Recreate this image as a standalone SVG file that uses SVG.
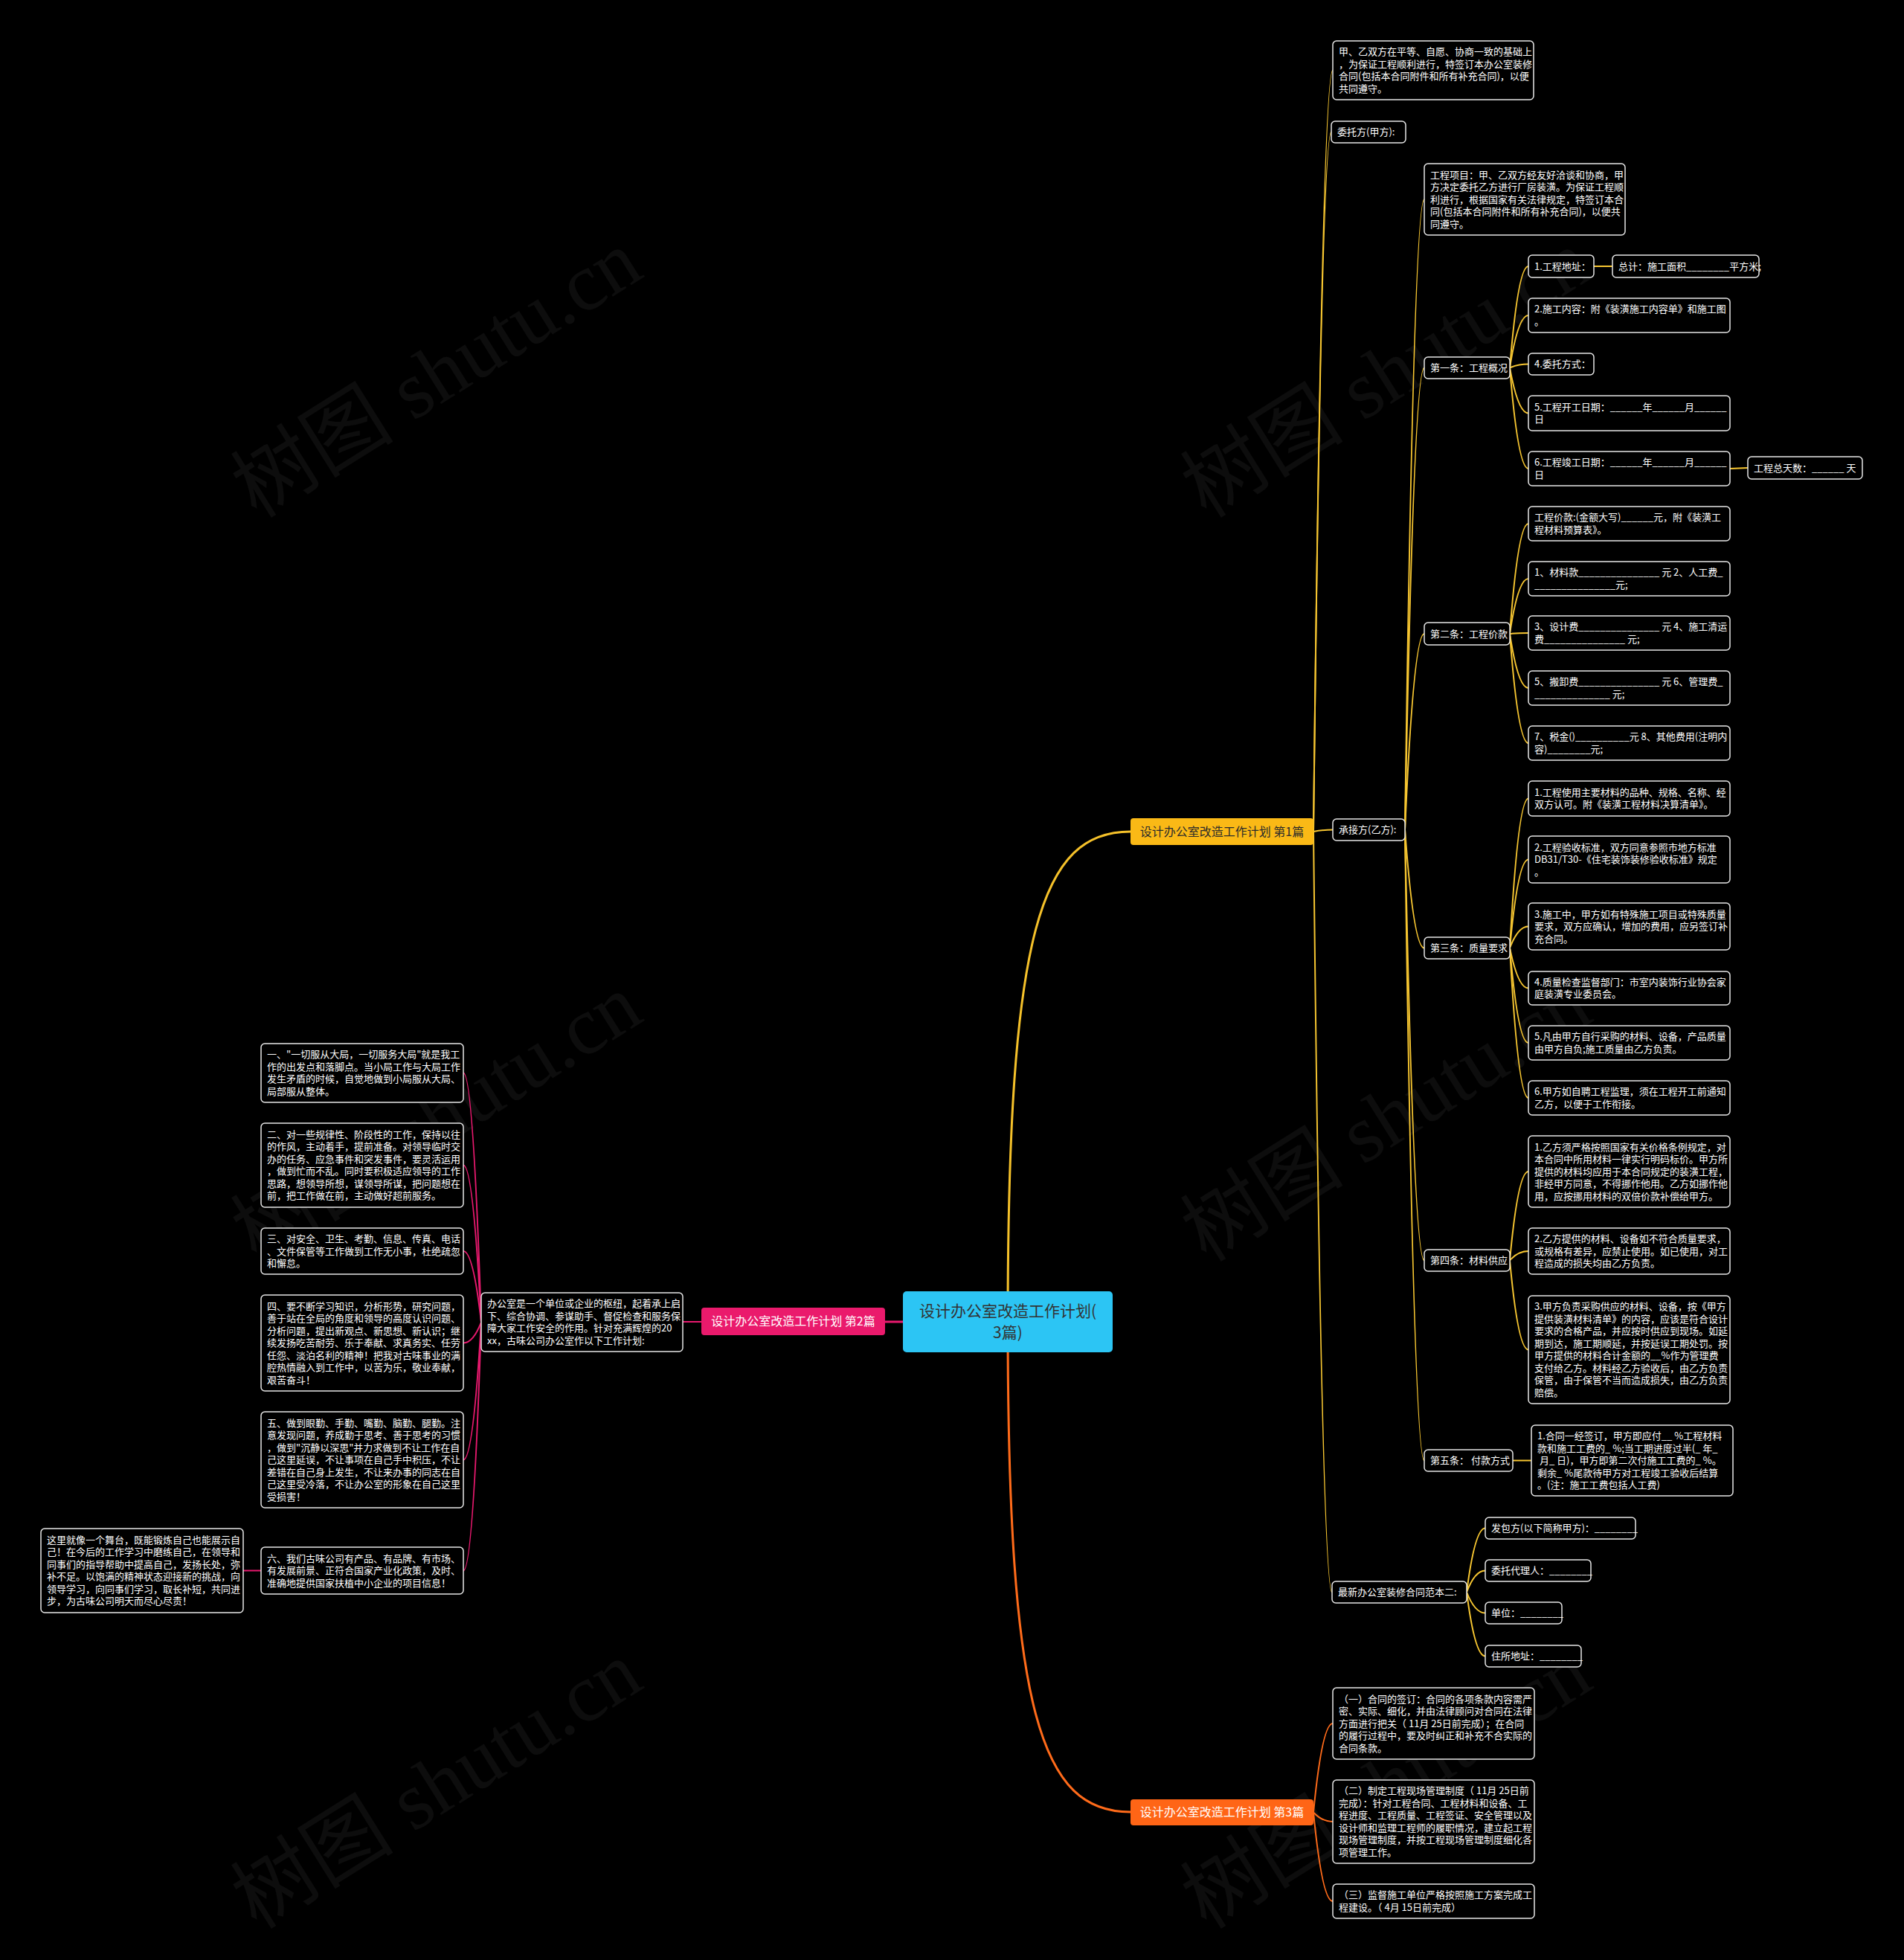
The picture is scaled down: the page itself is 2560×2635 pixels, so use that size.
<svg xmlns="http://www.w3.org/2000/svg" width="2560" height="2635" viewBox="0 0 2560 2635">
<style>
.bg{fill:#000}
.wm{font-family:"Liberation Serif","Noto Sans CJK SC",serif;font-size:110px;fill:#ffffff;fill-opacity:0.05}
.box{fill:#000;stroke:#e6e6e6;stroke-width:1.5}
.t{font-family:"Noto Sans CJK SC","Microsoft YaHei",sans-serif;font-size:13px;fill:#fff}
.bt{font-family:"Noto Sans CJK SC","Microsoft YaHei",sans-serif;font-size:16px;text-anchor:middle}
.rt{font-family:"Noto Sans CJK SC","Microsoft YaHei",sans-serif;font-size:21px;text-anchor:middle;fill:#333}
.cy{fill:none;stroke:#F7C631;stroke-width:2}
.cyM{fill:none;stroke:#F5C12A;stroke-width:3}
.cp{fill:none;stroke:#E8196E;stroke-width:2}
.cpM{fill:none;stroke:#E8196E;stroke-width:3}
.co{fill:none;stroke:#FF6B1A;stroke-width:2}
.coM{fill:none;stroke:#FF6B1A;stroke-width:3}
</style>
<rect class="bg" x="0" y="0" width="2560" height="2635"/>
<g id="watermarks">
<text class="wm" transform="translate(345,698) rotate(-32)">树图 shutu.cn</text>
<text class="wm" transform="translate(1622,698) rotate(-32)">树图 shutu.cn</text>
<text class="wm" transform="translate(345,1698) rotate(-32)">树图 shutu.cn</text>
<text class="wm" transform="translate(1622,1698) rotate(-32)">树图 shutu.cn</text>
<text class="wm" transform="translate(345,2595) rotate(-32)">树图 shutu.cn</text>
<text class="wm" transform="translate(1622,2595) rotate(-32)">树图 shutu.cn</text>
</g>
<g id="connectors">
<path class="cyM" d="M1355,1777 C1355,1250 1400,1118 1520,1118"/>
<path class="coM" d="M1355,1777 C1355,2304 1400,2436 1520,2436"/>
<path class="cpM" d="M1214,1777 L1190,1777"/>
<path class="cp" d="M943,1777 L918,1777"/>
<path class="cy" d="M1766,1118 Q1777.7,94.5 1792,94.5"/>
<path class="cy" d="M1766,1118 Q1776.8,177.5 1790,177.5"/>
<path class="cy" d="M1766,1118 Q1777.7,1115.5 1792,1115.5"/>
<path class="cy" d="M1766,1118 Q1777.2,2140.5 1791,2140.5"/>
<path class="cy" d="M1889,1115.5 Q1900.7,268 1915,268"/>
<path class="cy" d="M1889,1115.5 Q1900.7,494.5 1915,494.5"/>
<path class="cy" d="M1889,1115.5 Q1900.7,852 1915,852"/>
<path class="cy" d="M1889,1115.5 Q1900.7,1274.5 1915,1274.5"/>
<path class="cy" d="M1889,1115.5 Q1900.7,1694.5 1915,1694.5"/>
<path class="cy" d="M1889,1115.5 Q1900.7,1963.5 1915,1963.5"/>
<path class="cy" d="M2030,494.5 Q2041,358 2055,358"/>
<path class="cy" d="M2030,494.5 Q2041,424 2055,424"/>
<path class="cy" d="M2030,494.5 Q2041,489.5 2055,489.5"/>
<path class="cy" d="M2030,494.5 Q2041,555.5 2055,555.5"/>
<path class="cy" d="M2030,494.5 Q2041,630 2055,630"/>
<path class="cy" d="M2143,358 L2168,358"/>
<path class="cy" d="M2326,630 L2350,629"/>
<path class="cy" d="M2030,852 Q2041,704 2055,704"/>
<path class="cy" d="M2030,852 Q2041,778 2055,778"/>
<path class="cy" d="M2030,852 Q2041,851 2055,851"/>
<path class="cy" d="M2030,852 Q2041,925 2055,925"/>
<path class="cy" d="M2030,852 Q2041,999 2055,999"/>
<path class="cy" d="M2030,1274.5 Q2041,1073.5 2055,1073.5"/>
<path class="cy" d="M2030,1274.5 Q2041,1155.5 2055,1155.5"/>
<path class="cy" d="M2030,1274.5 Q2041,1245.5 2055,1245.5"/>
<path class="cy" d="M2030,1274.5 Q2041,1328.5 2055,1328.5"/>
<path class="cy" d="M2030,1274.5 Q2041,1402 2055,1402"/>
<path class="cy" d="M2030,1274.5 Q2041,1476 2055,1476"/>
<path class="cy" d="M2030,1694.5 Q2041,1575 2055,1575"/>
<path class="cy" d="M2030,1694.5 Q2041,1682 2055,1682"/>
<path class="cy" d="M2030,1694.5 Q2041,1814.5 2055,1814.5"/>
<path class="cy" d="M2034,1963.5 L2059,1963.5"/>
<path class="cy" d="M1972,2140.5 Q1983,2054.5 1997,2054.5"/>
<path class="cy" d="M1972,2140.5 Q1983,2111.5 1997,2111.5"/>
<path class="cy" d="M1972,2140.5 Q1983,2168.5 1997,2168.5"/>
<path class="cy" d="M1972,2140.5 Q1983,2226.5 1997,2226.5"/>
<path class="co" d="M1766,2436.5 Q1777.7,2317 1792,2317"/>
<path class="co" d="M1766,2436.5 Q1777.7,2449 1792,2449"/>
<path class="co" d="M1766,2436.5 Q1777.7,2556 1792,2556"/>
<path class="cp" d="M647,1777.5 Q636.2,1442.5 623,1442.5"/>
<path class="cp" d="M647,1777.5 Q636.2,1566.5 623,1566.5"/>
<path class="cp" d="M647,1777.5 Q636.2,1682 623,1682"/>
<path class="cp" d="M647,1777.5 Q636.2,1805.5 623,1805.5"/>
<path class="cp" d="M647,1777.5 Q636.2,1962.5 623,1962.5"/>
<path class="cp" d="M647,1777.5 Q636.2,2111.5 623,2111.5"/>
<path class="cp" d="M351,2111.5 L327,2111.5"/>
</g>
<g id="root">
<rect x="1214" y="1736" width="282" height="82" rx="5" fill="#2CC5F4"/>
<text class="rt" x="1355" y="1770">设计办公室改造工作计划(<tspan x="1355" dy="29">3篇)</tspan></text>
</g>
<g id="branch1">
<rect x="1520" y="1100" width="246" height="36" rx="4" fill="#FAB916"/>
<text class="bt" x="1643" y="1123.5" fill="#2b2b2b">设计办公室改造工作计划 第1篇</text>
</g>
<g id="branch2">
<rect x="943" y="1758" width="247" height="37" rx="4" fill="#EA1A6C"/>
<text class="bt" x="1066.5" y="1782" fill="#fff">设计办公室改造工作计划 第2篇</text>
</g>
<g id="branch3">
<rect x="1520" y="2419" width="246" height="35" rx="4" fill="#FF6516"/>
<text class="bt" x="1643" y="2442" fill="#fff">设计办公室改造工作计划 第3篇</text>
</g>
<g id="n_a">
<rect class="box" x="1792" y="55" width="270" height="79" rx="5"/>
<text class="t" x="1800" y="74.4">甲、乙双方在平等、自愿、协商一致的基础上<tspan x="1800" dy="16.5">，为保证工程顺利进行，特签订本办公室装修</tspan><tspan x="1800" dy="16.5">合同(包括本合同附件和所有补充合同)，以便</tspan><tspan x="1800" dy="16.5">共同遵守。</tspan></text>
</g>
<g id="n_b">
<rect class="box" x="1790" y="163" width="100" height="29" rx="5"/>
<text class="t" x="1798" y="182.1">委托方(甲方):</text>
</g>
<g id="n_c">
<rect class="box" x="1792" y="1101" width="97" height="29" rx="5"/>
<text class="t" x="1800" y="1120.1">承接方(乙方):</text>
</g>
<g id="n_d">
<rect class="box" x="1791" y="2126" width="181" height="29" rx="5"/>
<text class="t" x="1799" y="2145.1">最新办公室装修合同范本二:</text>
</g>
<g id="n_e">
<rect class="box" x="1915" y="220" width="270" height="96" rx="5"/>
<text class="t" x="1923" y="239.6">工程项目：甲、乙双方经友好洽谈和协商，甲<tspan x="1923" dy="16.5">方决定委托乙方进行厂房装潢。为保证工程顺</tspan><tspan x="1923" dy="16.5">利进行，根据国家有关法律规定，特签订本合</tspan><tspan x="1923" dy="16.5">同(包括本合同附件和所有补充合同)，以便共</tspan><tspan x="1923" dy="16.5">同遵守。</tspan></text>
</g>
<g id="n_f">
<rect class="box" x="1915" y="480" width="115" height="29" rx="5"/>
<text class="t" x="1923" y="499.1">第一条：工程概况</text>
</g>
<g id="n_g">
<rect class="box" x="1915" y="837" width="115" height="30" rx="5"/>
<text class="t" x="1923" y="856.6">第二条：工程价款</text>
</g>
<g id="n_h">
<rect class="box" x="1915" y="1260" width="115" height="29" rx="5"/>
<text class="t" x="1923" y="1279.1">第三条：质量要求</text>
</g>
<g id="n_i">
<rect class="box" x="1915" y="1680" width="115" height="29" rx="5"/>
<text class="t" x="1923" y="1699.1">第四条：材料供应</text>
</g>
<g id="n_j">
<rect class="box" x="1915" y="1949" width="119" height="29" rx="5"/>
<text class="t" x="1923" y="1968.1">第五条： 付款方式</text>
</g>
<g id="f1">
<rect class="box" x="2055" y="343" width="88" height="30" rx="5"/>
<text class="t" x="2063" y="362.6">1.工程地址：</text>
</g>
<g id="f1a">
<rect class="box" x="2168" y="343" width="197" height="30" rx="5"/>
<text class="t" x="2176" y="362.6">总计：施工面积________平方米;</text>
</g>
<g id="f2">
<rect class="box" x="2055" y="401" width="271" height="46" rx="5"/>
<text class="t" x="2063" y="420.4">2.施工内容：附《装潢施工内容单》和施工图<tspan x="2063" dy="16.5">。</tspan></text>
</g>
<g id="f4">
<rect class="box" x="2055" y="475" width="88" height="29" rx="5"/>
<text class="t" x="2063" y="494.1">4.委托方式：</text>
</g>
<g id="f5">
<rect class="box" x="2055" y="532" width="271" height="47" rx="5"/>
<text class="t" x="2063" y="551.9">5.工程开工日期：______年______月______<tspan x="2063" dy="16.5">日</tspan></text>
</g>
<g id="f6">
<rect class="box" x="2055" y="607" width="271" height="46" rx="5"/>
<text class="t" x="2063" y="626.4">6.工程竣工日期：______年______月______<tspan x="2063" dy="16.5">日</tspan></text>
</g>
<g id="f6a">
<rect class="box" x="2350" y="614" width="154" height="30" rx="5"/>
<text class="t" x="2358" y="633.6">工程总天数：______ 天</text>
</g>
<g id="g1">
<rect class="box" x="2055" y="681" width="271" height="46" rx="5"/>
<text class="t" x="2063" y="700.4">工程价款:(金额大写)______元，附《装潢工<tspan x="2063" dy="16.5">程材料预算表》。</tspan></text>
</g>
<g id="g2">
<rect class="box" x="2055" y="755" width="271" height="46" rx="5"/>
<text class="t" x="2063" y="774.4">1、材料款_______________ 元 2、人工费_<tspan x="2063" dy="16.5">_______________元;</tspan></text>
</g>
<g id="g3">
<rect class="box" x="2055" y="828" width="271" height="46" rx="5"/>
<text class="t" x="2063" y="847.4">3、设计费_______________ 元 4、施工清运<tspan x="2063" dy="16.5">费_______________ 元;</tspan></text>
</g>
<g id="g4">
<rect class="box" x="2055" y="902" width="271" height="46" rx="5"/>
<text class="t" x="2063" y="921.4">5、搬卸费_______________ 元 6、管理费_<tspan x="2063" dy="16.5">______________ 元;</tspan></text>
</g>
<g id="g5">
<rect class="box" x="2055" y="976" width="271" height="46" rx="5"/>
<text class="t" x="2063" y="995.4">7、税金()__________元 8、其他费用(注明内<tspan x="2063" dy="16.5">容)________元;</tspan></text>
</g>
<g id="h1">
<rect class="box" x="2055" y="1050" width="271" height="47" rx="5"/>
<text class="t" x="2063" y="1069.9">1.工程使用主要材料的品种、规格、名称、经<tspan x="2063" dy="16.5">双方认可。附《装潢工程材料决算清单》。</tspan></text>
</g>
<g id="h2">
<rect class="box" x="2055" y="1124" width="271" height="63" rx="5"/>
<text class="t" x="2063" y="1143.6">2.工程验收标准，双方同意参照市地方标准<tspan x="2063" dy="16.5">DB31/T30-《住宅装饰装修验收标准》规定</tspan><tspan x="2063" dy="16.5">。</tspan></text>
</g>
<g id="h3">
<rect class="box" x="2055" y="1214" width="271" height="63" rx="5"/>
<text class="t" x="2063" y="1233.6">3.施工中，甲方如有特殊施工项目或特殊质量<tspan x="2063" dy="16.5">要求，双方应确认，增加的费用，应另签订补</tspan><tspan x="2063" dy="16.5">充合同。</tspan></text>
</g>
<g id="h4">
<rect class="box" x="2055" y="1306" width="271" height="45" rx="5"/>
<text class="t" x="2063" y="1324.9">4.质量检查监督部门：市室内装饰行业协会家<tspan x="2063" dy="16.5">庭装潢专业委员会。</tspan></text>
</g>
<g id="h5">
<rect class="box" x="2055" y="1379" width="271" height="46" rx="5"/>
<text class="t" x="2063" y="1398.4">5.凡由甲方自行采购的材料、设备，产品质量<tspan x="2063" dy="16.5">由甲方自负;施工质量由乙方负责。</tspan></text>
</g>
<g id="h6">
<rect class="box" x="2055" y="1453" width="271" height="46" rx="5"/>
<text class="t" x="2063" y="1472.4">6.甲方如自聘工程监理，须在工程开工前通知<tspan x="2063" dy="16.5">乙方，以便于工作衔接。</tspan></text>
</g>
<g id="i1">
<rect class="box" x="2055" y="1527" width="271" height="96" rx="5"/>
<text class="t" x="2063" y="1546.6">1.乙方须严格按照国家有关价格条例规定，对<tspan x="2063" dy="16.5">本合同中所用材料一律实行明码标价。甲方所</tspan><tspan x="2063" dy="16.5">提供的材料均应用于本合同规定的装潢工程，</tspan><tspan x="2063" dy="16.5">非经甲方同意，不得挪作他用。乙方如挪作他</tspan><tspan x="2063" dy="16.5">用，应按挪用材料的双倍价款补偿给甲方。</tspan></text>
</g>
<g id="i2">
<rect class="box" x="2055" y="1651" width="271" height="62" rx="5"/>
<text class="t" x="2063" y="1670.1">2.乙方提供的材料、设备如不符合质量要求，<tspan x="2063" dy="16.5">或规格有差异，应禁止使用。如已使用，对工</tspan><tspan x="2063" dy="16.5">程造成的损失均由乙方负责。</tspan></text>
</g>
<g id="i3">
<rect class="box" x="2055" y="1742" width="271" height="145" rx="5"/>
<text class="t" x="2063" y="1761.4">3.甲方负责采购供应的材料、设备，按《甲方<tspan x="2063" dy="16.5">提供装潢材料清单》的内容，应该是符合设计</tspan><tspan x="2063" dy="16.5">要求的合格产品，并应按时供应到现场。如延</tspan><tspan x="2063" dy="16.5">期到达，施工期顺延，并按延误工期处罚。按</tspan><tspan x="2063" dy="16.5">甲方提供的材料合计金额的__%作为管理费</tspan><tspan x="2063" dy="16.5">支付给乙方。材料经乙方验收后，由乙方负责</tspan><tspan x="2063" dy="16.5">保管，由于保管不当而造成损失，由乙方负责</tspan><tspan x="2063" dy="16.5">赔偿。</tspan></text>
</g>
<g id="j1">
<rect class="box" x="2059" y="1916" width="271" height="95" rx="5"/>
<text class="t" x="2067" y="1935.1">1.合同一经签订，甲方即应付__ %工程材料<tspan x="2067" dy="16.5">款和施工工费的_ %;当工期进度过半(_ 年_</tspan><tspan x="2067" dy="16.5"> 月_ 日)，甲方即第二次付施工工费的_ %。</tspan><tspan x="2067" dy="16.5">剩余_ %尾款待甲方对工程竣工验收后结算</tspan><tspan x="2067" dy="16.5">。(注：施工工费包括人工费)</tspan></text>
</g>
<g id="d1">
<rect class="box" x="1997" y="2040" width="202" height="29" rx="5"/>
<text class="t" x="2005" y="2059.1">发包方(以下简称甲方)：________</text>
</g>
<g id="d2">
<rect class="box" x="1997" y="2097" width="142" height="29" rx="5"/>
<text class="t" x="2005" y="2116.1">委托代理人：________</text>
</g>
<g id="d3">
<rect class="box" x="1997" y="2154" width="103" height="29" rx="5"/>
<text class="t" x="2005" y="2173.1">单位：________</text>
</g>
<g id="d4">
<rect class="box" x="1997" y="2212" width="129" height="29" rx="5"/>
<text class="t" x="2005" y="2231.1">住所地址：________</text>
</g>
<g id="k1">
<rect class="box" x="1792" y="2269" width="271" height="96" rx="5"/>
<text class="t" x="1800" y="2288.6">（一）合同的签订：合同的各项条款内容需严<tspan x="1800" dy="16.5">密、实际、细化，并由法律顾问对合同在法律</tspan><tspan x="1800" dy="16.5">方面进行把关（ 11月 25日前完成）；在合同</tspan><tspan x="1800" dy="16.5">的履行过程中，要及时纠正和补充不合实际的</tspan><tspan x="1800" dy="16.5">合同条款。</tspan></text>
</g>
<g id="k2">
<rect class="box" x="1792" y="2393" width="271" height="112" rx="5"/>
<text class="t" x="1800" y="2412.4">（二）制定工程现场管理制度（ 11月 25日前<tspan x="1800" dy="16.5">完成）：针对工程合同、工程材料和设备、工</tspan><tspan x="1800" dy="16.5">程进度、工程质量、工程签证、安全管理以及</tspan><tspan x="1800" dy="16.5">设计师和监理工程师的履职情况，建立起工程</tspan><tspan x="1800" dy="16.5">现场管理制度，并按工程现场管理制度细化各</tspan><tspan x="1800" dy="16.5">项管理工作。</tspan></text>
</g>
<g id="k3">
<rect class="box" x="1792" y="2533" width="271" height="46" rx="5"/>
<text class="t" x="1800" y="2552.4">（三）监督施工单位严格按照施工方案完成工<tspan x="1800" dy="16.5">程建设。（ 4月 15日前完成）</tspan></text>
</g>
<g id="m">
<rect class="box" x="647" y="1738" width="271" height="79" rx="5"/>
<text class="t" x="655" y="1757.4">办公室是一个单位或企业的枢纽，起着承上启<tspan x="655" dy="16.5">下、综合协调、参谋助手、督促检查和服务保</tspan><tspan x="655" dy="16.5">障大家工作安全的作用。针对充满辉煌的20</tspan><tspan x="655" dy="16.5">xx，古味公司办公室作以下工作计划:</tspan></text>
</g>
<g id="L1">
<rect class="box" x="351" y="1403" width="272" height="79" rx="5"/>
<text class="t" x="359" y="1422.4">一、"一切服从大局，一切服务大局"就是我工<tspan x="359" dy="16.5">作的出发点和落脚点。当小局工作与大局工作</tspan><tspan x="359" dy="16.5">发生矛盾的时候，自觉地做到小局服从大局、</tspan><tspan x="359" dy="16.5">局部服从整体。</tspan></text>
</g>
<g id="L2">
<rect class="box" x="351" y="1510" width="272" height="113" rx="5"/>
<text class="t" x="359" y="1529.9">二、对一些规律性、阶段性的工作，保持以往<tspan x="359" dy="16.5">的作风，主动着手，提前准备。对领导临时交</tspan><tspan x="359" dy="16.5">办的任务、应急事件和突发事件，要灵活运用</tspan><tspan x="359" dy="16.5">，做到忙而不乱。同时要积极适应领导的工作</tspan><tspan x="359" dy="16.5">思路，想领导所想，谋领导所谋，把问题想在</tspan><tspan x="359" dy="16.5">前，把工作做在前，主动做好超前服务。</tspan></text>
</g>
<g id="L3">
<rect class="box" x="351" y="1651" width="272" height="62" rx="5"/>
<text class="t" x="359" y="1670.1">三、对安全、卫生、考勤、信息、传真、电话<tspan x="359" dy="16.5">、文件保管等工作做到工作无小事，杜绝疏忽</tspan><tspan x="359" dy="16.5">和懈怠。</tspan></text>
</g>
<g id="L4">
<rect class="box" x="351" y="1741" width="272" height="129" rx="5"/>
<text class="t" x="359" y="1760.6">四、要不断学习知识，分析形势，研究问题，<tspan x="359" dy="16.5">善于站在全局的角度和领导的高度认识问题、</tspan><tspan x="359" dy="16.5">分析问题，提出新观点、新思想、新认识；继</tspan><tspan x="359" dy="16.5">续发扬吃苦耐劳、乐于奉献、求真务实、任劳</tspan><tspan x="359" dy="16.5">任怨、淡泊名利的精神！把我对古味事业的满</tspan><tspan x="359" dy="16.5">腔热情融入到工作中，以苦为乐，敬业奉献，</tspan><tspan x="359" dy="16.5">艰苦奋斗！</tspan></text>
</g>
<g id="L5">
<rect class="box" x="351" y="1898" width="272" height="129" rx="5"/>
<text class="t" x="359" y="1917.6">五、做到眼勤、手勤、嘴勤、脑勤、腿勤。注<tspan x="359" dy="16.5">意发现问题，养成勤于思考、善于思考的习惯</tspan><tspan x="359" dy="16.5">，做到"沉静以深思"并力求做到不让工作在自</tspan><tspan x="359" dy="16.5">己这里延误，不让事项在自己手中积压，不让</tspan><tspan x="359" dy="16.5">差错在自己身上发生，不让来办事的同志在自</tspan><tspan x="359" dy="16.5">己这里受冷落，不让办公室的形象在自己这里</tspan><tspan x="359" dy="16.5">受损害！</tspan></text>
</g>
<g id="L6">
<rect class="box" x="351" y="2080" width="272" height="63" rx="5"/>
<text class="t" x="359" y="2099.6">六、我们古味公司有产品、有品牌、有市场、<tspan x="359" dy="16.5">有发展前景、正符合国家产业化政策，及时、</tspan><tspan x="359" dy="16.5">准确地提供国家扶植中小企业的项目信息！</tspan></text>
</g>
<g id="L7">
<rect class="box" x="55" y="2055" width="272" height="113" rx="5"/>
<text class="t" x="63" y="2074.9">这里就像一个舞台，既能锻炼自己也能展示自<tspan x="63" dy="16.5">己！在今后的工作学习中磨练自己，在领导和</tspan><tspan x="63" dy="16.5">同事们的指导帮助中提高自己，发扬长处，弥</tspan><tspan x="63" dy="16.5">补不足。以饱满的精神状态迎接新的挑战，向</tspan><tspan x="63" dy="16.5">领导学习，向同事们学习，取长补短，共同进</tspan><tspan x="63" dy="16.5">步，为古味公司明天而尽心尽责！</tspan></text>
</g>
</svg>
